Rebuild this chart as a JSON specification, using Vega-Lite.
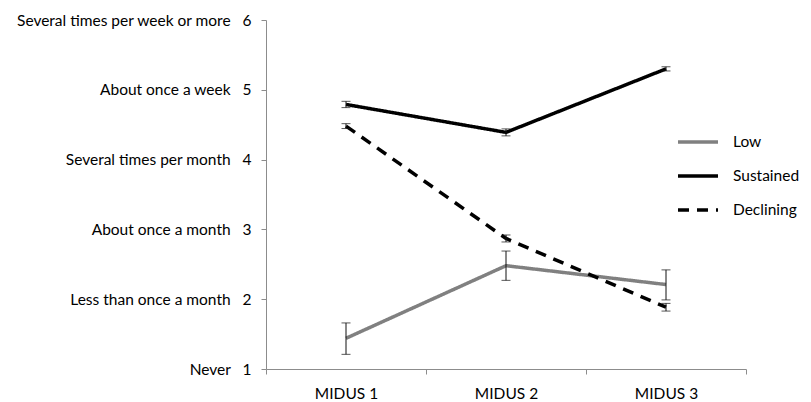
{
  "$schema": "https://vega.github.io/schema/vega-lite/v6.json",
  "width": 480,
  "height": 349,
  "autosize": {"type": "none"},
  "padding": {"left": 266, "top": 20, "right": 65, "bottom": 33},
  "background": "white",
  "config": {
    "view": {"stroke": null},
    "font": "Lato",
    "axis": {"labelFont": "Lato", "labelFontSize": 15.5, "labelColor": "#000", "labelLimit": 0, "domainColor": "#8c8c8c", "tickColor": "#8c8c8c", "grid": false, "title": null}
  },
  "data": {
    "values": [
      {"group": "Low", "wave": "MIDUS 1", "mean": 1.44, "lo": 1.21, "hi": 1.66},
      {"group": "Low", "wave": "MIDUS 2", "mean": 2.48, "lo": 2.27, "hi": 2.69},
      {"group": "Low", "wave": "MIDUS 3", "mean": 2.21, "lo": 1.99, "hi": 2.42},
      {"group": "Sustained", "wave": "MIDUS 1", "mean": 4.79, "lo": 4.745, "hi": 4.835},
      {"group": "Sustained", "wave": "MIDUS 2", "mean": 4.39, "lo": 4.34, "hi": 4.44},
      {"group": "Sustained", "wave": "MIDUS 3", "mean": 5.3, "lo": 5.27, "hi": 5.33},
      {"group": "Declining", "wave": "MIDUS 1", "mean": 4.48, "lo": 4.445, "hi": 4.515},
      {"group": "Declining", "wave": "MIDUS 2", "mean": 2.87, "lo": 2.82, "hi": 2.92},
      {"group": "Declining", "wave": "MIDUS 3", "mean": 1.885, "lo": 1.83, "hi": 1.94}
    ]
  },
  "encoding": {
    "x": {
      "field": "wave", "type": "nominal",
      "scale": {"type": "band", "paddingInner": 0, "paddingOuter": 0},
      "axis": {"labelAngle": 0, "tickBand": "extent", "tickSize": 5, "labelPadding": 12}
    }
  },
  "layer": [
    {
      "mark": {"type": "line", "strokeWidth": 3.5},
      "encoding": {
        "y": {
          "field": "mean", "type": "quantitative",
          "scale": {"domain": [1, 6], "nice": false, "zero": false},
          "axis": {
            "values": [1, 2, 3, 4, 5, 6],
            "tickSize": 5,
            "labelPadding": 10,
            "labelExpr": "(datum.value == 6 ? 'Several times per week or more' : datum.value == 5 ? 'About once a week' : datum.value == 4 ? 'Several times per month' : datum.value == 3 ? 'About once a month' : datum.value == 2 ? 'Less than once a month' : 'Never') + '\u00a0\u00a0\u00a0' + datum.value"
          }
        },
        "color": {
          "field": "group", "type": "nominal",
          "scale": {"domain": ["Low", "Sustained", "Declining"], "range": ["#808080", "#000000", "#000000"]},
          "legend": {
            "title": null, "orient": "none", "legendX": 410, "legendY": 100,
            "symbolType": "stroke", "symbolSize": 1600, "symbolStrokeWidth": 3.5,
            "labelFont": "Lato", "labelFontSize": 15.5, "labelColor": "#000", "rowPadding": 3, "labelOffset": 13
          }
        },
        "strokeDash": {
          "field": "group", "type": "nominal",
          "scale": {"domain": ["Low", "Sustained", "Declining"], "range": [[1, 0], [1, 0], [11, 8]]},
          "legend": {
            "title": null, "orient": "none", "legendX": 410, "legendY": 100,
            "symbolType": "stroke", "symbolSize": 1600, "symbolStrokeWidth": 3.5,
            "labelFont": "Lato", "labelFontSize": 15.5, "labelColor": "#000", "rowPadding": 3, "labelOffset": 13
          }
        }
      }
    },
    {
      "mark": {"type": "rule", "color": "#111", "strokeWidth": 1},
      "encoding": {
        "y": {"field": "lo", "type": "quantitative"},
        "y2": {"field": "hi"}
      }
    },
    {
      "mark": {"type": "tick", "color": "#111", "thickness": 1, "size": 9, "orient": "horizontal"},
      "encoding": {
        "y": {"field": "lo", "type": "quantitative"}
      }
    },
    {
      "mark": {"type": "tick", "color": "#111", "thickness": 1, "size": 9, "orient": "horizontal"},
      "encoding": {
        "y": {"field": "hi", "type": "quantitative"}
      }
    }
  ]
}
